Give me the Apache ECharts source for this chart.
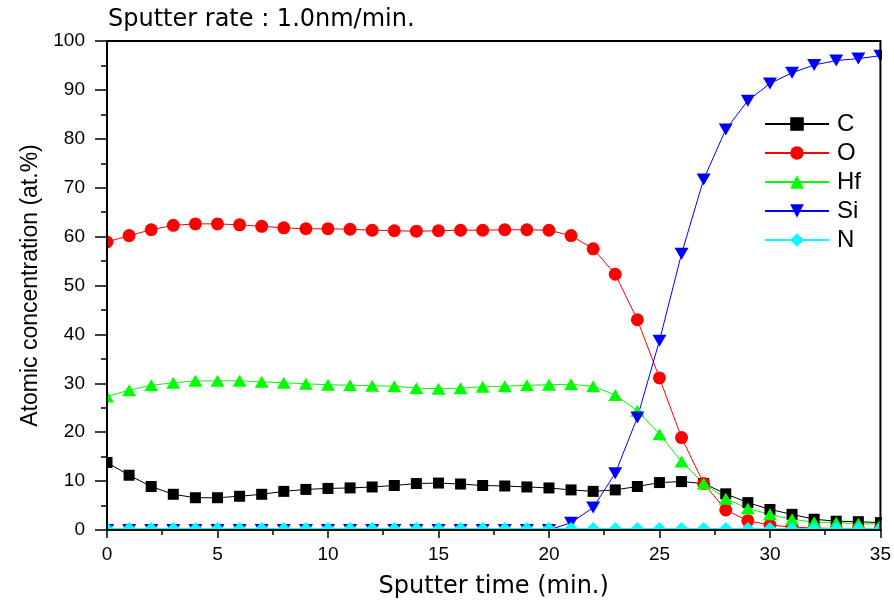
<!DOCTYPE html>
<html>
<head>
<meta charset="utf-8">
<title>Sputter depth profile</title>
<script src="https://cdn.jsdelivr.net/npm/echarts@6/dist/echarts.min.js"></script>
<style>
  html, body { margin: 0; padding: 0; background: #ffffff; }
  #chart { width: 894px; height: 608px; }
</style>
</head>
<body>
<div id="chart"></div>
<script>
// Sputter time (min.)
const time = [0, 1, 2, 3, 4, 5, 6, 7, 8, 9, 10, 11, 12, 13, 14, 15, 16, 17,
              18, 19, 20, 21, 22, 23, 24, 25, 26, 27, 28, 29, 30, 31, 32, 33, 34, 35];

// Atomic concentration (at.%) per element
const carbon = [13.8, 11.2, 8.9, 7.3, 6.6, 6.6, 6.9, 7.3, 7.9, 8.3, 8.5, 8.6, 8.8, 9.1, 9.5, 9.6, 9.4, 9.1,
                9.0, 8.8, 8.6, 8.2, 7.9, 8.2, 8.9, 9.7, 9.9, 9.5, 7.4, 5.6, 4.2, 3.2, 2.2, 1.8, 1.7, 1.5];
const oxygen = [58.9, 60.2, 61.4, 62.3, 62.6, 62.6, 62.4, 62.1, 61.8, 61.6, 61.6, 61.5, 61.3, 61.2, 61.1, 61.2, 61.3, 61.3,
                61.4, 61.4, 61.3, 60.2, 57.5, 52.3, 43.0, 31.1, 18.9, 9.5, 4.1, 1.9, 1.0, 0.6, 0.4, 0.3, 0.3, 0.3];
const hafnium = [27.3, 28.6, 29.6, 30.1, 30.5, 30.5, 30.5, 30.3, 30.1, 29.9, 29.7, 29.6, 29.5, 29.4, 29.0, 28.9, 29.0, 29.3,
                 29.4, 29.6, 29.7, 29.8, 29.4, 27.6, 24.4, 19.6, 14.0, 9.5, 6.4, 4.4, 3.2, 2.2, 1.6, 1.5, 1.3, 1.2];
const silicon = [0, 0, 0, 0, 0, 0, 0, 0, 0, 0, 0, 0, 0, 0, 0, 0, 0, 0,
                 0, 0, 0, 1.5, 4.6, 11.6, 23.0, 38.7, 56.5, 71.7, 81.9, 87.8, 91.3, 93.5, 95.1, 96.0, 96.4, 97.0];
const nitrogen = [0.3, 0.3, 0.3, 0.3, 0.3, 0.3, 0.3, 0.3, 0.3, 0.3, 0.3, 0.3, 0.3, 0.3, 0.3, 0.3, 0.3, 0.3,
                  0.3, 0.3, 0.3, 0.3, 0.3, 0.3, 0.3, 0.3, 0.3, 0.3, 0.3, 0.3, 0.3, 0.3, 0.3, 0.3, 0.3, 0.3];

const xTicks = { min: 0, max: 35, interval: 5 };
const yTicks = { min: 0, max: 100, interval: 10 };

const FONT = '"Liberation Sans", Arial, sans-serif';
const WIDE_FONT = '"DejaVu Sans", "Liberation Sans", sans-serif';
const W = 894, H = 608;
const GRID = { left: 107, right: 13, top: 41, bottom: 78 };

function lineSeries(name, values, symbol, size, color, rotate) {
  return {
    name: name,
    type: 'line',
    data: time.map((t, i) => [t, values[i]]),
    symbol: symbol,
    symbolSize: size,
    symbolRotate: rotate || 0,
    showAllSymbol: true,
    clip: false,
    itemStyle: { color: color },
    lineStyle: { color: color, width: 1 },
    emphasis: { disabled: true },
    z: 2
  };
}

// White strips outside the plotting frame so markers are cut at the axes
const plotRight = W - GRID.right;
const plotBottom = H - GRID.bottom;
const masks = [
  { type: 'rect', shape: { x: 0, y: GRID.top, width: GRID.left - 1, height: H - GRID.top }, style: { fill: '#fff' }, z: 5, silent: true },
  { type: 'rect', shape: { x: 0, y: plotBottom + 1, width: W, height: GRID.bottom }, style: { fill: '#fff' }, z: 5, silent: true },
  { type: 'rect', shape: { x: plotRight + 1, y: 0, width: GRID.right, height: H }, style: { fill: '#fff' }, z: 5, silent: true }
];

const chart = echarts.init(document.getElementById('chart'), null, { renderer: 'canvas' });
chart.setOption({
  animation: false,
  backgroundColor: '#ffffff',
  title: {
    text: 'Sputter rate : 1.0nm/min.',
    left: 108,
    top: 8,
    padding: 0,
    z: 10,
    textStyle: { fontFamily: WIDE_FONT, fontSize: 24, fontWeight: 'normal', color: '#000' }
  },
  legend: {
    orient: 'vertical',
    left: 764,
    top: 112,
    padding: 0,
    itemWidth: 64,
    itemHeight: 17,
    itemGap: 5,
    selectedMode: false,
    textStyle: { fontFamily: FONT, fontSize: 24, color: '#000', padding: [0, 0, 0, 3] },
    data: ['C', 'O', 'Hf', 'Si', 'N']
  },
  grid: {
    left: GRID.left, right: GRID.right, top: GRID.top, bottom: GRID.bottom,
    show: true, borderColor: '#000', borderWidth: 2, z: 10
  },
  graphic: { elements: masks },
  xAxis: {
    type: 'value',
    min: xTicks.min, max: xTicks.max, interval: xTicks.interval,
    z: 10,
    name: 'Sputter time (min.)',
    nameLocation: 'middle',
    nameGap: 45,
    nameTextStyle: { fontFamily: WIDE_FONT, fontSize: 24, color: '#000' },
    axisLine: { lineStyle: { color: '#000', width: 2 } },
    axisTick: { length: 8, lineStyle: { color: '#000', width: 1.5 } },
    minorTick: { show: true, splitNumber: 2, length: 5, lineStyle: { color: '#000', width: 1.5 } },
    splitLine: { show: false },
    axisLabel: { fontFamily: FONT, fontSize: 19, color: '#000', margin: 15 }
  },
  yAxis: {
    type: 'value',
    min: yTicks.min, max: yTicks.max, interval: yTicks.interval,
    z: 10,
    name: 'Atomic concentration (at.%)',
    nameLocation: 'middle',
    nameGap: 65,
    nameTextStyle: { fontFamily: FONT, fontSize: 23, color: '#000' },
    axisLine: { lineStyle: { color: '#000', width: 2 } },
    axisTick: { length: 12, lineStyle: { color: '#000', width: 1.5 } },
    minorTick: { show: true, splitNumber: 2, length: 6, lineStyle: { color: '#000', width: 1.5 } },
    splitLine: { show: false },
    axisLabel: { fontFamily: FONT, fontSize: 19, color: '#000', margin: 22 }
  },
  series: [
    lineSeries('C', carbon, 'rect', 11, '#000000'),
    lineSeries('O', oxygen, 'circle', 13, '#ff0000'),
    lineSeries('Hf', hafnium, 'triangle', [14, 12], '#00ff00'),
    lineSeries('Si', silicon, 'triangle', [14, 12], '#0000ff', 180),
    lineSeries('N', nitrogen, 'diamond', 13, '#00ffff')
  ]
});
</script>
</body>
</html>
